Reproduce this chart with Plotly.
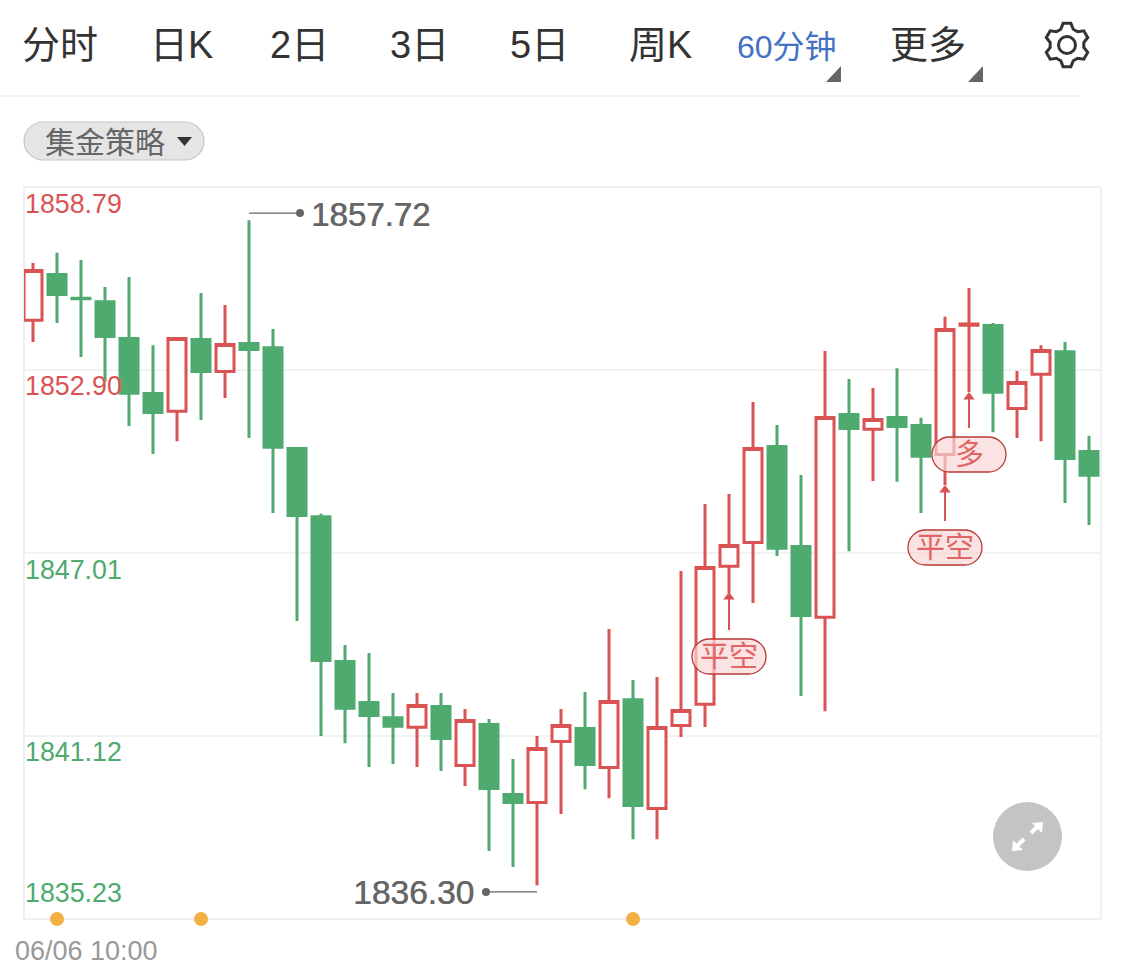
import math
import plotly.graph_objects as go

W, H = 1125, 969
L, R, T, B = 24, 1101, 187, 919

# ---------- data ----------
highs = [1856.34,1856.67,1856.44,1855.57,1855.89,1853.70,1853.96,1855.38,1854.99,1857.72,1854.22,1850.42,1848.27,1844.05,1843.79,1842.50,1842.50,1842.50,1841.99,1841.67,1840.38,1841.12,1841.99,1842.54,1844.56,1842.92,1843.02,1846.43,1848.59,1848.91,1851.87,1851.13,1849.52,1853.51,1852.61,1852.32,1852.96,1851.36,1854.61,1855.54,1854.41,1852.87,1853.70,1853.80,1850.78]
opens = [1854.50,1855.97,1855.21,1855.10,1853.91,1852.14,1851.57,1853.88,1852.85,1853.75,1853.62,1850.37,1848.18,1843.52,1842.20,1841.71,1841.40,1842.07,1840.17,1841.49,1839.24,1838.98,1840.94,1841.36,1840.11,1842.29,1838.79,1841.46,1842.14,1846.58,1847.35,1850.44,1847.22,1844.94,1851.47,1850.99,1851.37,1851.11,1850.18,1854.34,1854.33,1851.66,1852.76,1853.49,1850.28]
closes = [1856.10,1855.33,1855.19,1853.98,1852.15,1851.53,1853.91,1852.85,1853.72,1853.56,1850.41,1848.22,1843.55,1842.01,1841.78,1841.43,1842.10,1841.04,1841.62,1839.43,1838.98,1840.72,1841.46,1840.20,1842.23,1838.88,1841.39,1841.94,1846.54,1847.25,1850.37,1847.16,1845.00,1851.37,1851.02,1851.31,1851.08,1850.12,1854.20,1854.38,1852.18,1852.50,1853.53,1850.05,1849.51]
lows = [1853.80,1854.41,1853.32,1852.51,1851.10,1850.20,1850.61,1851.29,1852.00,1850.71,1848.30,1844.82,1841.12,1840.89,1840.12,1840.22,1840.12,1839.99,1839.51,1837.42,1836.90,1836.32,1838.61,1839.41,1839.12,1837.80,1837.80,1841.09,1841.41,1845.72,1845.40,1846.91,1842.41,1841.92,1847.07,1849.33,1849.30,1848.30,1849.20,1852.19,1850.90,1850.71,1850.61,1848.62,1847.91]
indices = list(range(len(highs)))

y_ticks = [1858.79, 1852.90, 1847.01, 1841.12, 1835.23]
y_tick_labels = ["1858.79", "1852.90", "1847.01", "1841.12", "1835.23"]
date_label = "06/06 10:00"
tabs = ["分时", "日K", "2日", "3日", "5日", "周K", "60分钟", "更多"]

max_label, max_x, max_end_x, max_y = "1857.72", 9, 11.125, 1857.95
min_label, min_x, min_end_x, min_y = "1836.30", 21, 18.875, 1836.10

event_indices = [1, 7, 25]

signal_indices = [29, 38, 39]
signal_tips = [1845.59, 1849.04, 1852.03]
signal_tails = [1844.53, 1848.04, 1851.03]
signal_names = ["平空", "平空", "多"]

RED = "#d95353"
GREEN = "#4eaa6e"
FONT = "Liberation Sans, Noto Sans CJK SC, sans-serif"


# ---------- page furniture helpers (pixel to paper) ----------
def px(x):
    return (x - L) / (R - L)


def py(y):
    return (B - y) / (B - T)


def path(points, close=True):
    s = "M" + " L".join(f"{px(x):.5f},{py(y):.5f}" for x, y in points)
    return s + (" Z" if close else "")


def pill(x0, y0, x1, y1):
    r = (y1 - y0) / 2
    k = 0.5523 * r
    c = lambda x, y: f"{px(x):.5f},{py(y):.5f}"
    return (
        f"M{c(x0 + r, y0)} L{c(x1 - r, y0)} "
        f"C{c(x1 - r + k, y0)} {c(x1, y0 + r - k)} {c(x1, y0 + r)} "
        f"C{c(x1, y0 + r + k)} {c(x1 - r + k, y1)} {c(x1 - r, y1)} "
        f"L{c(x0 + r, y1)} "
        f"C{c(x0 + r - k, y1)} {c(x0, y0 + r + k)} {c(x0, y0 + r)} "
        f"C{c(x0, y0 + r - k)} {c(x0 + r - k, y0)} {c(x0 + r, y0)} Z"
    )


def gear(cx, cy, ro, ri, n=6):
    pts = []
    step = 2 * math.pi / n
    for i in range(n):
        a = i * step - math.pi / 2
        for da, r in [(-0.36, ri), (-0.17, ro), (0.17, ro), (0.36, ri)]:
            pts.append((cx + r * math.cos(a + da * step), cy + r * math.sin(a + da * step)))
    return path(pts)


def circle(cx, cy, r):
    return dict(type="circle", xref="paper", yref="paper",
                x0=px(cx - r), x1=px(cx + r), y0=py(cy + r), y1=py(cy - r))


shapes = [
    dict(type="rect", xref="paper", yref="paper", x0=0, x1=1, y0=0, y1=1, layer="below",
         fillcolor="white", line=dict(color="#f0f0f0", width=2)),
    dict(type="line", xref="paper", yref="paper", x0=px(0), x1=px(1080), y0=py(96), y1=py(96),
         line=dict(color="#f2f2f2", width=2)),
    dict(type="path", xref="paper", yref="paper", path=pill(24, 122, 204, 160),
         fillcolor="#e5e5e5", line=dict(color="#c6c6c6", width=1.2)),
    dict(type="path", xref="paper", yref="paper", path=path([(826, 82), (841, 82), (841, 66)]),
         fillcolor="#666666", line=dict(width=0)),
    dict(type="path", xref="paper", yref="paper", path=path([(968, 82), (983, 82), (983, 66)]),
         fillcolor="#666666", line=dict(width=0)),
    dict(type="path", xref="paper", yref="paper", path=gear(1067, 45, 22, 17),
         fillcolor="rgba(0,0,0,0)", line=dict(color="#333333", width=3)),
    dict(circle(1067, 45, 8.5), fillcolor="rgba(0,0,0,0)", line=dict(color="#333333", width=3)),
    dict(circle(1027.5, 836.5, 34.5), fillcolor="#c4c4c4", line=dict(width=0)),
    dict(type="line", xref="paper", yref="paper", x0=px(1031), y0=py(833), x1=px(1038), y1=py(826),
         line=dict(color="white", width=4)),
    dict(type="path", xref="paper", yref="paper", path=path([(1043, 822), (1042, 833), (1032, 823)]),
         fillcolor="white", line=dict(width=0)),
    dict(type="line", xref="paper", yref="paper", x0=px(1024), y0=py(839), x1=px(1017), y1=py(846),
         line=dict(color="white", width=4)),
    dict(type="path", xref="paper", yref="paper", path=path([(1012, 851), (1013, 840), (1023, 850)]),
         fillcolor="white", line=dict(width=0)),
    dict(type="path", xref="paper", yref="paper",
         path=path([(177, 137), (192, 137), (184.5, 146)]), fillcolor="#333333", line=dict(width=0)),
]

pills = [(692, 639, 766, 674), (908, 530, 982, 565), (932, 437, 1006, 472)]
for box in pills:
    shapes.append(dict(type="path", xref="paper", yref="paper", path=pill(*box),
                       fillcolor="rgba(250,215,215,0.7)", line=dict(color="#b93a36", width=1.3)))


def label(text, x, y, size, color, anchor="center"):
    return dict(text=text, xref="paper", yref="paper", x=px(x), y=py(y), xanchor=anchor, yanchor="middle",
                showarrow=False, font=dict(size=size, color=color, family=FONT))


tab_pos = [60, 181, 299, 419, 539, 660, 787, 928]
annotations = []
for name, x in zip(tabs, tab_pos):
    if name == "60分钟":
        annotations.append(label(name, x, 47, 32, "#4472c4"))
    else:
        annotations.append(label(name, x, 45, 38, "#333333"))
annotations.append(label("集金策略", 105, 142, 30, "#666666"))
annotations.append(label(date_label, 13, 951, 27, "#999999", "left"))

tick_y = [204, 386, 570, 752, 893]
tick_colors = [RED, RED, GREEN, GREEN, GREEN]
for t, y, c in zip(y_tick_labels, tick_y, tick_colors):
    annotations.append(label(t, 23, y, 26.8, c, "left"))

annotations.append(dict(text=max_label, xref="x", yref="paper", x=max_end_x, y=py(214), xanchor="left", yanchor="middle",
                        xshift=9, showarrow=False,
                        font=dict(size=33, color="#666666", family=FONT, shadow="0.6px 0 0 #666666")))
annotations.append(dict(text=min_label, xref="x", yref="paper", x=min_end_x, y=py(892), xanchor="right", yanchor="middle",
                        xshift=-10, showarrow=False,
                        font=dict(size=33.5, color="#666666", family=FONT, shadow="0.6px 0 0 #666666")))

sig_pos = [(729, 657), (945, 548), (969, 455)]
for name, (x, y) in zip(signal_names, sig_pos):
    annotations.append(label(name, x, y, 29, "#e06666"))

# ---------- traces ----------
fig = go.Figure()
fig.add_trace(go.Candlestick(
    x=indices, open=opens, high=highs, low=lows, close=closes,
    increasing=dict(line=dict(color=RED, width=3), fillcolor="white"),
    decreasing=dict(line=dict(color=GREEN, width=3), fillcolor=GREEN),
    whiskerwidth=0, showlegend=False, hoverinfo="skip",
))
for x0, x1, y in [(max_x, max_end_x, max_y), (min_x, min_end_x, min_y)]:
    fig.add_trace(go.Scatter(x=[x0, x1], y=[y, y], mode="lines", line=dict(color="#666666", width=1.2),
                             showlegend=False, hoverinfo="skip"))
    fig.add_trace(go.Scatter(x=[x1], y=[y], mode="markers", marker=dict(color="#666666", size=8),
                             showlegend=False, hoverinfo="skip"))
for i, tip, tail in zip(signal_indices, signal_tips, signal_tails):
    fig.add_trace(go.Scatter(x=[i, i], y=[tail, tip], mode="lines", line=dict(color=RED, width=2),
                             showlegend=False, hoverinfo="skip"))
    fig.add_trace(go.Scatter(x=[i], y=[tip], mode="markers",
                             marker=dict(color=RED, size=10, symbol="triangle-up"),
                             showlegend=False, hoverinfo="skip"))
fig.add_trace(go.Scatter(x=event_indices, y=[y_ticks[-1]] * len(event_indices), mode="markers",
                         marker=dict(color="#f2b044", size=14), cliponaxis=False,
                         showlegend=False, hoverinfo="skip"))

fig.update_layout(
    width=W, height=H, autosize=False,
    margin=dict(l=L, r=W - R, t=T, b=H - B, pad=0),
    paper_bgcolor="white", plot_bgcolor="rgba(0,0,0,0)",
    boxgap=0.25, boxgroupgap=0, showlegend=False,
    font=dict(family=FONT),
    shapes=shapes, annotations=annotations,
    xaxis=dict(range=[-0.375, 44.5], rangeslider=dict(visible=False), showgrid=False, zeroline=False,
               showticklabels=False, ticks="", showline=False),
    yaxis=dict(range=[y_ticks[-1], y_ticks[0]], tickvals=y_ticks, showticklabels=False, ticks="",
               gridcolor="#f2f2f2", gridwidth=1.5, zeroline=False, showline=False),
)

fig.write_html("out.html", config=dict(displayModeBar=False),
               post_script="document.body.style.margin='0';document.body.style.overflow='hidden';")
